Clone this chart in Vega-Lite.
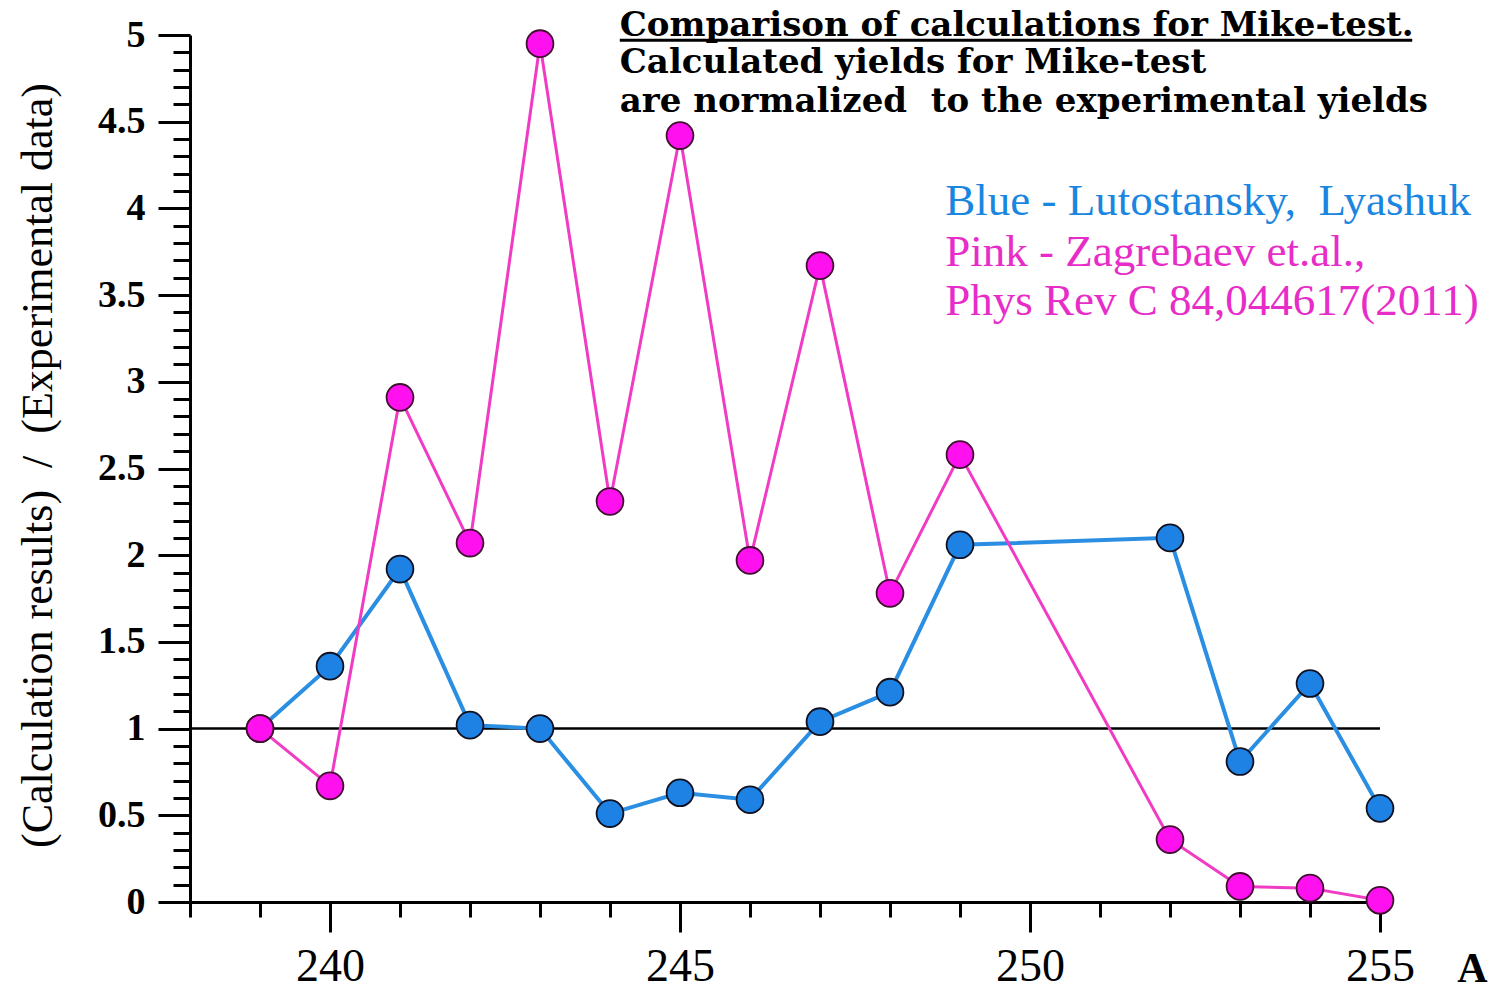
{
  "$schema": "https://vega.github.io/schema/vega-lite/v6.json",
  "width": 1190,
  "height": 867,
  "autosize": {"type": "none"},
  "padding": {"left": 190, "top": 35, "right": 117, "bottom": 87},
  "background": "white",
  "config": {
    "view": {"stroke": null},
    "font": "Liberation Serif"
  },
  "datasets": {
    "yields": [
      {"A": 239, "ratio": 1.0, "model": "Lutostansky"},
      {"A": 240, "ratio": 1.36, "model": "Lutostansky"},
      {"A": 241, "ratio": 1.92, "model": "Lutostansky"},
      {"A": 242, "ratio": 1.02, "model": "Lutostansky"},
      {"A": 243, "ratio": 1.0, "model": "Lutostansky"},
      {"A": 244, "ratio": 0.51, "model": "Lutostansky"},
      {"A": 245, "ratio": 0.63, "model": "Lutostansky"},
      {"A": 246, "ratio": 0.59, "model": "Lutostansky"},
      {"A": 247, "ratio": 1.04, "model": "Lutostansky"},
      {"A": 248, "ratio": 1.21, "model": "Lutostansky"},
      {"A": 249, "ratio": 2.06, "model": "Lutostansky"},
      {"A": 252, "ratio": 2.1, "model": "Lutostansky"},
      {"A": 253, "ratio": 0.81, "model": "Lutostansky"},
      {"A": 254, "ratio": 1.26, "model": "Lutostansky"},
      {"A": 255, "ratio": 0.54, "model": "Lutostansky"},
      {"A": 239, "ratio": 1.0, "model": "Zagrebaev"},
      {"A": 240, "ratio": 0.67, "model": "Zagrebaev"},
      {"A": 241, "ratio": 2.91, "model": "Zagrebaev"},
      {"A": 242, "ratio": 2.07, "model": "Zagrebaev"},
      {"A": 243, "ratio": 4.95, "model": "Zagrebaev"},
      {"A": 244, "ratio": 2.31, "model": "Zagrebaev"},
      {"A": 245, "ratio": 4.42, "model": "Zagrebaev"},
      {"A": 246, "ratio": 1.97, "model": "Zagrebaev"},
      {"A": 247, "ratio": 3.67, "model": "Zagrebaev"},
      {"A": 248, "ratio": 1.78, "model": "Zagrebaev"},
      {"A": 249, "ratio": 2.58, "model": "Zagrebaev"},
      {"A": 252, "ratio": 0.36, "model": "Zagrebaev"},
      {"A": 253, "ratio": 0.09, "model": "Zagrebaev"},
      {"A": 254, "ratio": 0.08, "model": "Zagrebaev"},
      {"A": 255, "ratio": 0.01, "model": "Zagrebaev"}
    ],
    "unity": [{"A": 238, "A2": 255, "ratio": 1}],
    "heading": [
      {"A": 244.14, "ratio": 4.995, "text": "Comparison of calculations for Mike-test."},
      {"A": 244.14, "ratio": 4.78, "text": "Calculated yields for Mike-test"},
      {"A": 244.14, "ratio": 4.555, "text": "are normalized \u00a0to the experimental yields"}
    ],
    "underline": [{"A": 244.14, "A2": 255.46, "ratio": 4.97}],
    "notes": [
      {"A": 248.79, "ratio": 3.96, "text": "Blue - Lutostansky, \u00a0Lyashuk", "model": "Lutostansky"},
      {"A": 248.79, "ratio": 3.67, "text": "Pink - Zagrebaev et.al.,", "model": "Zagrebaev"},
      {"A": 248.79, "ratio": 3.385, "text": "Phys Rev C 84,044617(2011)", "model": "Zagrebaev"}
    ]
  },
  "encoding": {
    "x": {
      "field": "A",
      "type": "quantitative",
      "scale": {"domain": [238, 255], "nice": false, "zero": false},
      "axis": {
        "title": "A",
        "titleFont": "Liberation Serif",
        "titleFontSize": 42,
        "titleFontWeight": "bold",
        "titleColor": "black",
        "titleX": 1282,
        "titleY": 79,
        "titleAlign": "center",
        "titleBaseline": "alphabetic",
        "values": [238, 239, 240, 241, 242, 243, 244, 245, 246, 247, 248, 249, 250, 251, 252, 253, 254, 255],
        "labelExpr": "datum.value % 5 === 0 ? datum.label : ''",
        "labelFont": "Liberation Serif",
        "labelFontSize": 46,
        "labelFontWeight": "normal",
        "labelColor": "black",
        "labelPadding": 12,
        "labelOverlap": false,
        "labelFlush": false,
        "tickSize": {"condition": {"test": "datum.value % 5 === 0", "value": 30}, "value": 15},
        "tickWidth": 3,
        "tickColor": "black",
        "domainColor": "black",
        "domainWidth": 3,
        "grid": false
      }
    },
    "y": {
      "field": "ratio",
      "type": "quantitative",
      "scale": {"domain": [0, 5], "nice": false},
      "axis": {
        "title": "(Calculation results) \u00a0/ \u00a0(Experimental data)",
        "titleFont": "Liberation Serif",
        "titleFontSize": 44,
        "titleFontWeight": "normal",
        "titleColor": "black",
        "titleAngle": -90,
        "titleX": -152,
        "titleY": 430,
        "titleAlign": "center",
        "titleBaseline": "middle",
        "values": [0, 0.1, 0.2, 0.3, 0.4, 0.5, 0.6, 0.7, 0.8, 0.9, 1, 1.1, 1.2, 1.3, 1.4, 1.5, 1.6, 1.7, 1.8, 1.9, 2, 2.1, 2.2, 2.3, 2.4, 2.5, 2.6, 2.7, 2.8, 2.9, 3, 3.1, 3.2, 3.3, 3.4, 3.5, 3.6, 3.7, 3.8, 3.9, 4, 4.1, 4.2, 4.3, 4.4, 4.5, 4.6, 4.7, 4.8, 4.9, 5],
        "format": ".1~f",
        "labelExpr": "abs(datum.value * 2 - round(datum.value * 2)) < 0.001 ? datum.label : ''",
        "labelFont": "Liberation Serif",
        "labelFontSize": 38,
        "labelFontWeight": "bold",
        "labelColor": "black",
        "labelPadding": 13,
        "labelOverlap": false,
        "labelFlush": false,
        "tickSize": {"condition": {"test": "abs(datum.value * 2 - round(datum.value * 2)) < 0.001", "value": 32}, "value": 17},
        "tickWidth": 3,
        "tickColor": "black",
        "domainColor": "black",
        "domainWidth": 3,
        "grid": false
      }
    }
  },
  "layer": [
    {
      "data": {"name": "unity"},
      "mark": {"type": "rule", "color": "black", "strokeWidth": 2.5},
      "encoding": {"x2": {"field": "A2"}}
    },
    {
      "data": {"name": "yields"},
      "transform": [{"filter": "datum.model === 'Lutostansky'"}],
      "mark": {"type": "line", "color": "#2a8ee2", "strokeWidth": 4}
    },
    {
      "data": {"name": "yields"},
      "transform": [{"filter": "datum.model === 'Zagrebaev'"}],
      "mark": {"type": "line", "color": "#f03cc4", "strokeWidth": 3}
    },
    {
      "data": {"name": "yields"},
      "transform": [{"filter": "datum.model === 'Lutostansky'"}],
      "mark": {"type": "point", "shape": "circle", "filled": true, "size": 720, "fill": "#1e82e4", "stroke": "#101020", "strokeWidth": 1.8, "opacity": 1}
    },
    {
      "data": {"name": "yields"},
      "transform": [{"filter": "datum.model === 'Zagrebaev'"}],
      "mark": {"type": "point", "shape": "circle", "filled": true, "size": 720, "fill": "#ff10ee", "stroke": "#401030", "strokeWidth": 1.8, "opacity": 1}
    },
    {
      "data": {"name": "heading"},
      "mark": {"type": "text", "align": "left", "baseline": "alphabetic", "font": "DejaVu Serif", "fontSize": 34, "fontWeight": "bold", "color": "black"},
      "encoding": {"text": {"field": "text"}}
    },
    {
      "data": {"name": "underline"},
      "mark": {"type": "rule", "color": "black", "strokeWidth": 3},
      "encoding": {"x2": {"field": "A2"}}
    },
    {
      "data": {"name": "notes"},
      "mark": {"type": "text", "align": "left", "baseline": "alphabetic", "font": "Liberation Serif", "fontSize": 45, "fontWeight": "normal"},
      "encoding": {
        "text": {"field": "text"},
        "color": {
          "field": "model",
          "type": "nominal",
          "scale": {"domain": ["Lutostansky", "Zagrebaev"], "range": ["#1a86e0", "#e82cc8"]},
          "legend": null
        }
      }
    }
  ]
}
